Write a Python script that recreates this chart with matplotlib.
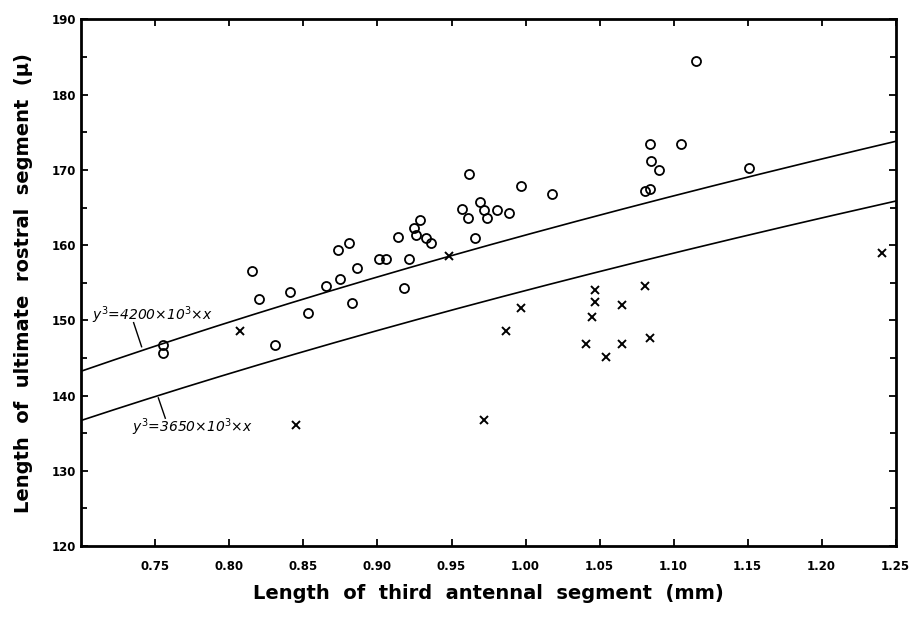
import numpy as np
import matplotlib
matplotlib.use("Agg")
import matplotlib.pyplot as plt
from matplotlib.ticker import MultipleLocator

# circles: (antennal segment mm, rostral segment micron)
circle_x = [0.755, 0.755, 0.815, 0.820, 0.831, 0.841, 0.853, 0.865, 0.873, 0.881,
            0.875, 0.883, 0.886, 0.901, 0.906, 0.914, 0.918, 0.921, 0.925, 0.926,
            0.929, 0.933, 0.936, 0.957, 0.961, 0.962, 0.966, 0.969, 0.972, 0.974,
            0.981, 0.989, 0.997, 1.018, 1.084, 1.085, 1.090, 1.081, 1.084, 1.105,
            1.115, 1.151]
circle_y = [146.7, 145.7, 156.5, 152.9, 146.7, 153.8, 151.0, 154.6, 159.4, 160.3,
            155.5, 152.3, 156.9, 158.2, 158.2, 161.1, 154.3, 158.1, 162.3, 161.3,
            163.3, 160.9, 160.3, 164.8, 163.6, 169.5, 161.0, 165.8, 164.7, 163.6,
            164.7, 164.3, 167.8, 166.8, 173.5, 171.2, 170.0, 167.2, 167.5, 173.5,
            184.5, 170.2]

# crosses
cross_x = [0.807, 0.845, 0.948, 0.997, 0.987, 0.972, 1.047, 1.047, 1.045, 1.041,
           1.054, 1.065, 1.065, 1.081, 1.084, 1.241]
cross_y = [148.6, 136.1, 158.6, 151.7, 148.6, 136.8, 154.1, 152.5, 150.5, 146.9,
           145.2, 152.1, 146.9, 154.6, 147.7, 158.9]

# y^3 = k * 10^3 * x
curve_k = [4200, 3650]
x_ticks = [0.75, 0.80, 0.85, 0.90, 0.95, 1.00, 1.05, 1.10, 1.15, 1.20, 1.25]
y_ticks = [120, 130, 140, 150, 160, 170, 180, 190]

fig = plt.figure(figsize=(9.14, 6.27), dpi=100)
ax = fig.add_axes([0.089, 0.129, 0.891, 0.840])

xs = np.linspace(0.70, 1.25, 200)
for k in curve_k:
    ax.plot(xs, np.cbrt(k * 1e3 * xs), color="black", lw=1.2)

ax.plot(circle_x, circle_y, "o", mfc="none", mec="black", ms=6.5, mew=1.3)
ax.plot(cross_x, cross_y, "x", color="black", ms=5.5, mew=1.4)

ax.set_xlim(0.70, 1.25)
ax.set_ylim(120, 190)
ax.set_xticks(x_ticks)
ax.set_xticklabels([f"{v:.2f}" for v in x_ticks])
ax.set_yticks(y_ticks)
ax.yaxis.set_minor_locator(MultipleLocator(5))
ax.tick_params(which="both", direction="in", top=True, right=True, width=1.3)
ax.tick_params(which="major", length=5, labelsize=8.5)
ax.tick_params(which="minor", length=4)
ax.tick_params(axis="x", pad=10)
for lab in ax.get_xticklabels() + ax.get_yticklabels():
    lab.set_fontweight("bold")
for s in ax.spines.values():
    s.set_linewidth(2)

ax.text(0.748, 150.7, r"$y^3$=4200×10$^3$×$x$", ha="center", va="center",
        fontsize=10, style="italic")
ax.plot([0.7353, 0.7407], [149.7, 146.5], color="black", lw=1)
ax.text(0.7747, 135.8, r"$y^3$=3650×10$^3$×$x$", ha="center", va="center",
        fontsize=10, style="italic")
ax.plot([0.752, 0.7567], [139.7, 137.0], color="black", lw=1)

ax.set_xlabel("Length  of  third  antennal  segment  (mm)", fontsize=14,
              fontweight="bold", labelpad=8)
ax.set_ylabel("Length  of  ultimate  rostral  segment  (μ)", fontsize=14,
              fontweight="bold", labelpad=14)

fig.savefig("out.png", dpi=100)
